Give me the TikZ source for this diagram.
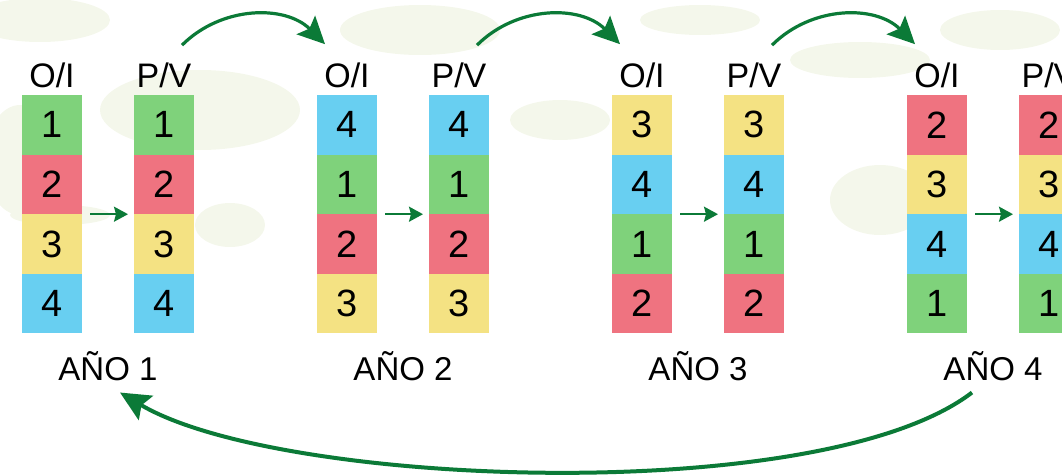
\documentclass[tikz,border=0pt]{standalone}
\usepackage{fontspec}
\setmainfont{Liberation Sans}
\usetikzlibrary{arrows.meta, calc, positioning}
\definecolor{crop1}{HTML}{7FD27B}
\definecolor{crop2}{HTML}{EF7380}
\definecolor{crop3}{HTML}{F4E283}
\definecolor{crop4}{HTML}{68CFF1}
\definecolor{arrowgreen}{HTML}{0B7A37}
\definecolor{leafbg}{HTML}{F4F7EB}
\tikzset{
    cell/.style={draw=none, minimum width=60pt, minimum height=59.6pt,
        inner sep=0pt, outer sep=0pt, font=\fontsize{38}{40}\selectfont},
    colhead/.style={inner sep=0pt, anchor=base, font=\fontsize{34}{40}\selectfont},
    yearlabel/.style={inner sep=0pt, anchor=base, font=\fontsize{33}{40}\selectfont},
    pass/.style={draw=arrowgreen, line width=2pt,
        -{Stealth[length=14pt, width=15pt, inset=2pt]}},
    turn/.style={draw=arrowgreen, line width=3.2pt,
        -{Stealth[length=27pt, width=26pt, inset=5pt]}},
    backturn/.style={draw=arrowgreen, line width=4pt,
        -{Stealth[length=30pt, width=28pt, inset=5pt]}},
    blob/.style={fill=leafbg}
}

\begin{document}
\begin{tikzpicture}[x=1pt, y=1pt]
    \clip (0,0) rectangle (1062,-474);
    % faint leaves behind
    \fill[blob] (40,-20) ellipse (70 and 22);
    \fill[blob] (200,-110) ellipse (100 and 40);
    \fill[blob] (20,-160) ellipse (35 and 55);
    \fill[blob] (230,-225) ellipse (35 and 22);
    \fill[blob] (60,-215) ellipse (50 and 10);
    \fill[blob] (420,-30) ellipse (80 and 25);
    \fill[blob] (560,-120) ellipse (50 and 20);
    \fill[blob] (700,-20) ellipse (60 and 15);
    \fill[blob] (860,-60) ellipse (70 and 18);
    \fill[blob] (1000,-30) ellipse (60 and 20);
    \fill[blob] (880,-200) ellipse (50 and 35);
    % years
    \foreach \k/\a/\b/\c/\d in {1/1/2/3/4, 2/4/1/2/3, 3/3/4/1/2, 4/2/3/4/1} {
        \pgfmathsetmacro{\xo}{52+295*(\k-1)}
        \pgfmathsetmacro{\xp}{\xo+112}
        \node[colhead] (oi\k) at (\xo,-87) {O/I};
        \node[colhead] (pv\k) at (\xp,-87) {P/V};
        \foreach \n [count=\r] in {\a,\b,\c,\d} {
            \node[cell, fill=crop\n] (oi\k-\r) at (\xo,{-95-59.6*(\r-0.5)}) {\n};
            \node[cell, fill=crop\n] (pv\k-\r) at (\xp,{-95-59.6*(\r-0.5)}) {\n};
        }
        \node[yearlabel] (year\k) at ({\xo+56},-380) {AÑO \k};
        \draw[pass] ([xshift=8pt]oi\k-2.south east) -- ([xshift=-6pt]pv\k-2.south west);
    }
    % rotation between years
    \foreach \k [evaluate=\k as \nx using int(\k+1)] in {1,2,3}
        \draw[turn] ([xshift=18pt, yshift=17pt]pv\k.north) to[out=45, in=135]
            ([xshift=-22pt, yshift=18pt]oi\nx.north);
    \draw[backturn] ([xshift=-21pt, yshift=-12pt]year4.south)
        .. controls +(-150,-115) and +(160,-95) ..
        ([xshift=12pt, yshift=-12pt]year1.south);
\end{tikzpicture}
\end{document}
